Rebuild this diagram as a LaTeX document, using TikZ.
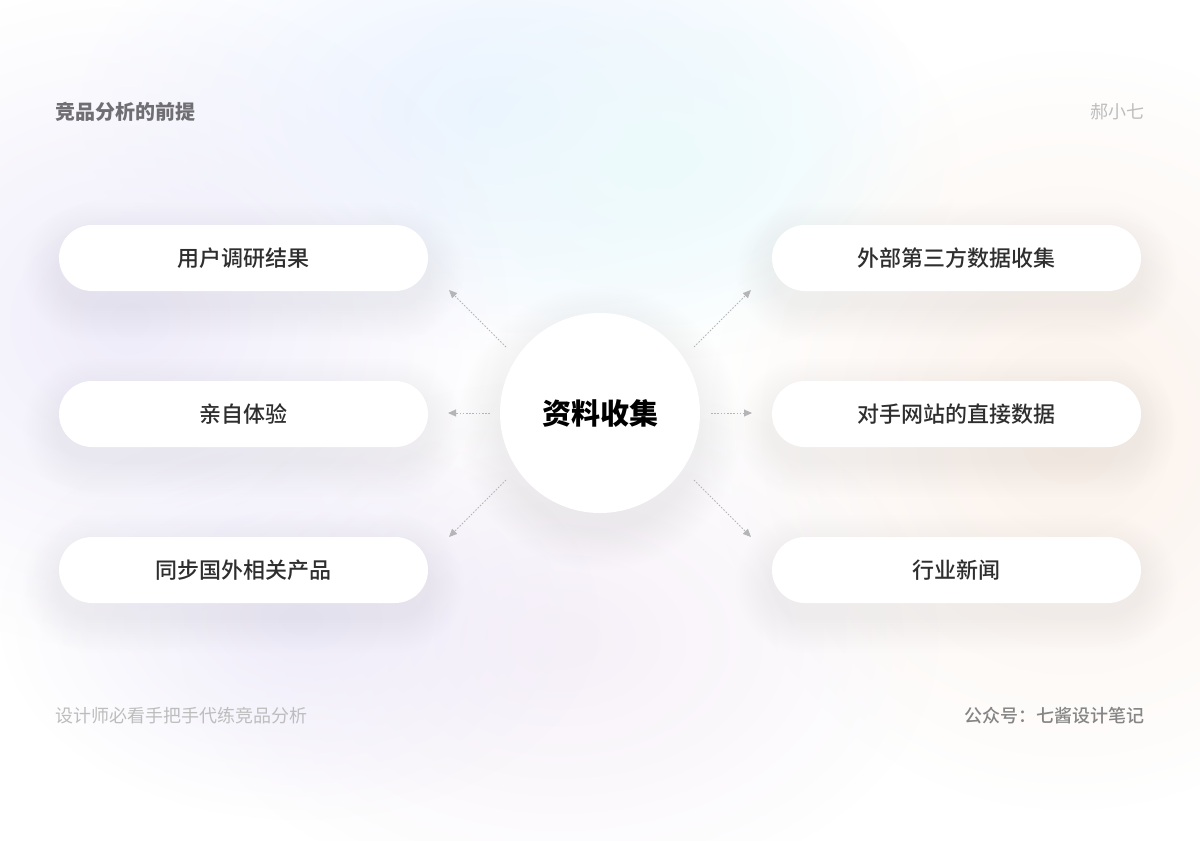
\documentclass[tikz,border=0pt]{standalone}
\usepackage{fontspec}
\setmainfont{Noto Sans CJK SC}
\newfontfamily\cjk{Noto Sans CJK SC}
\newfontfamily\cjkm{Noto Sans CJK SC Medium}
\usetikzlibrary{arrows.meta,fadings}
\tikzfading[name=softglow, inner color=transparent!0, outer color=transparent!100]
\definecolor{titlegray}{HTML}{6F6F73}
\definecolor{lightgray}{HTML}{BDBDBD}
\definecolor{midgray}{HTML}{858585}
\definecolor{labelc}{HTML}{2E2E2E}
\definecolor{arrowc}{HTML}{B5B5B8}
\definecolor{blobblue}{HTML}{EAF2FF}
\definecolor{blobcyan}{HTML}{EDFBFC}
\definecolor{blobviolet}{HTML}{EFECFA}
\definecolor{blobpeach}{HTML}{FBF1EA}
\definecolor{blobpink}{HTML}{F6F0F8}
\definecolor{shadowc}{HTML}{9A90C4}
\tikzset{
  itembox/.style={fill=white, rounded corners=33pt, minimum width=369pt, minimum height=66pt,
    inner sep=0pt, font=\cjkm\fontsize{22}{25}\selectfont, text=labelc},
  hub/.style={circle, fill=white, minimum size=200pt, inner sep=0pt,
    font=\cjk\bfseries\fontsize{29}{32}\selectfont, text=black},
  link/.style={draw=arrowc, line width=0.9pt, dash pattern=on 1.6pt off 1.6pt,
    -{Triangle[length=8pt,width=7pt,fill=arrowc]}},
  corner/.style={inner sep=0pt, font=\cjk\fontsize{18}{20}\selectfont},
}
\newcommand\pillshadow[2]{%
  \foreach \i in {3,6,...,36}{%
    \pgfmathsetmacro\rr{33+\i}%
    \fill[shadowc, opacity=0.0055, rounded corners=\rr pt] (#1-184.5-\i, #2-33-\i+14) rectangle (#1+184.5+\i, #2+33+\i+14);}}
\begin{document}
\begin{tikzpicture}[x=1pt,y=-1pt]
\useasboundingbox (0,0) rectangle (1200,841);
\fill[white] (0,0) rectangle (1200,841);
% soft background glows
\begin{scope}
\clip (0,0) rectangle (1200,841);
\fill[blobblue, path fading=softglow] (500,110) ellipse (420 and 240);
\fill[blobcyan, path fading=softglow] (660,160) ellipse (300 and 200);
\fill[blobviolet, path fading=softglow] (130,320) ellipse (380 and 330);
\fill[blobpeach, path fading=softglow] (1070,430) ellipse (360 and 380);
\fill[blobpink, path fading=softglow] (560,640) ellipse (380 and 260);
\fill[blobviolet, path fading=softglow] (300,620) ellipse (300 and 200);
\end{scope}
% soft shadows
\pillshadow{243.5}{258}
\pillshadow{243.5}{414}
\pillshadow{243.5}{570}
\pillshadow{956.5}{258}
\pillshadow{956.5}{414}
\pillshadow{956.5}{570}
\foreach \i in {3,6,...,42}{\fill[shadowc, opacity=0.0055] (600,428) circle ({100+\i});}
% corner texts
\node[corner, anchor=west, text=titlegray, font=\cjk\bfseries\fontsize{20}{22}\selectfont] (title) at (55,112) {竞品分析的前提};
\node[corner, anchor=east, text=lightgray] (author) at (1145,112) {郝小七};
\node[corner, anchor=west, text=lightgray] (footl) at (55,716) {设计师必看手把手代练竞品分析};
\node[corner, anchor=east, text=midgray, font=\cjkm\fontsize{18}{20}\selectfont] (footr) at (1145,716) {公众号：七酱设计笔记};
% boxes
\node[itembox] (l1) at (243.5,258) {用户调研结果};
\node[itembox] (l2) at (243.5,414) {亲自体验};
\node[itembox] (l3) at (243.5,570) {同步国外相关产品};
\node[itembox] (r1) at (956.5,258) {外部第三方数据收集};
\node[itembox] (r2) at (956.5,414) {对手网站的直接数据};
\node[itembox] (r3) at (956.5,570) {行业新闻};
% hub
\node[hub] (c) at (600,413) {资料收集};
% arrow end points
\coordinate (a1s) at (506,347); \coordinate (a1e) at (449,290);
\coordinate (a2s) at (490,413); \coordinate (a2e) at (448,413);
\coordinate (a3s) at (506,480); \coordinate (a3e) at (449,537);
\coordinate (b1s) at (694,347); \coordinate (b1e) at (751,290);
\coordinate (b2s) at (711,413); \coordinate (b2e) at (752,413);
\coordinate (b3s) at (694,480); \coordinate (b3e) at (751,537);
\draw[link] (a1s) -- (a1e);
\draw[link] (a2s) -- (a2e);
\draw[link] (a3s) -- (a3e);
\draw[link] (b1s) -- (b1e);
\draw[link] (b2s) -- (b2e);
\draw[link] (b3s) -- (b3e);
\end{tikzpicture}
\end{document}
